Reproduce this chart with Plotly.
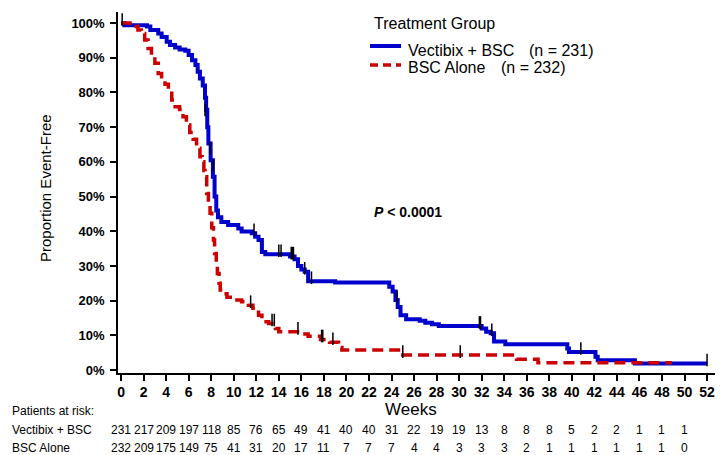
import plotly.graph_objects as go

# ---------------- data ----------------
weeks_ticks = list(range(0, 53, 2))

vect_t = [0, 0.3, 2.3, 2.6, 3.3, 3.6, 4.05, 4.35, 4.8, 5.2, 5.7, 6.0, 6.3, 6.6, 6.8, 7.0, 7.25,
          7.45, 7.55, 7.65, 7.75, 7.95, 8.15, 8.3, 8.45, 8.6, 8.9, 9.5, 10.4, 10.7, 11.6, 11.9,
          12.2, 12.5, 12.8, 15.0, 15.4, 15.7, 16.0, 16.3, 16.6, 19.0, 23.8, 24.1, 24.35, 24.55,
          24.8, 25.3, 26.5, 27.0, 27.6, 28.2, 32.0, 32.4, 32.8, 33.1, 34.1, 39.6, 39.75, 42.1,
          42.3, 45.6, 52.0]
vect_s = [100, 99.4, 99.0, 98.0, 97.0, 96.0, 94.6, 93.7, 93.0, 92.4, 92.0, 90.8, 89.3, 87.9, 86.0,
          84.0, 82.0, 78.5, 75.0, 70.0, 65.3, 60.5, 55.7, 50.0, 46.0, 44.0, 42.7, 41.8, 40.8,
          39.9, 39.4, 38.4, 37.5, 34.0, 33.4, 32.7, 31.9, 30.0, 29.0, 28.3, 25.6, 25.2, 24.0,
          22.6, 20.2, 18.2, 15.8, 14.6, 14.2, 13.6, 13.2, 12.7, 12.0, 11.0, 10.6, 8.2, 7.4, 6.2,
          5.2, 3.8, 2.8, 1.9, 1.9]

bsc_t = [0, 0.8, 1.1, 1.5, 1.8, 2.1, 2.4, 2.7, 3.0, 3.3, 3.6, 3.9, 4.2, 4.5, 4.8, 5.2, 5.5, 5.8,
         6.1, 6.4, 6.7, 7.0, 7.2, 7.35, 7.45, 7.6, 7.75, 7.9, 8.05, 8.2, 8.3, 8.45, 8.55, 8.7,
         8.8, 9.1, 9.4, 10.1, 10.7, 11.3, 11.7, 12.2, 12.5, 13.1, 13.7, 14.0, 15.9, 16.6, 17.7,
         18.5, 19.3, 19.6, 24.8, 35.1, 37.0, 48.9]
bsc_s = [100, 99.4, 99.0, 98.0, 97.0, 95.1, 92.7, 90.8, 88.4, 85.5, 83.6, 82.4, 80.7, 77.8, 75.9,
         75.1, 73.0, 70.6, 68.5, 66.5, 63.9, 61.5, 60.0, 57.5, 55.7, 50.9, 48.0, 45.2, 41.0, 37.5,
         33.6, 30.0, 27.8, 25.0, 23.1, 22.0, 21.0, 20.2, 19.7, 18.7, 17.8, 15.8, 13.9, 13.4, 12.0,
         11.0, 10.4, 9.7, 8.8, 8.0, 6.5, 5.8, 4.3, 3.1, 2.1, 2.1]

vect_cens_t = [0.1, 7.45, 7.9, 8.2, 11.8, 14.0, 14.2, 15.1, 15.2, 15.3, 16.3, 16.9, 24.5, 31.8, 31.9, 32.9, 40.8, 52.0]
vect_cens_s = [101, 75, 64, 59, 40.4, 34.4, 34.4, 33.7, 33.7, 33.7, 29.3, 26.6, 21.2, 13.7, 13.7, 11.6, 6.2, 2.9]

bsc_cens_t = [11.5, 13.4, 13.6, 15.7, 17.8, 17.9, 18.8, 25.0, 30.1]
bsc_cens_s = [19.7, 14.4, 14.4, 12.0, 9.8, 9.8, 9.0, 5.3, 5.3]

vect_risk = [231, 217, 209, 197, 118, 85, 76, 65, 49, 41, 40, 40, 31, 22, 19, 19, 13, 8, 8, 8, 5, 2, 2, 1, 1, 1]
bsc_risk = [232, 209, 175, 149, 75, 41, 31, 20, 17, 11, 7, 7, 7, 4, 4, 3, 3, 3, 2, 1, 1, 1, 1, 1, 1, 0]

y_ticks = list(range(0, 101, 10))
y_tick_labels = [f"{v}%" for v in y_ticks]

legend_title = "Treatment Group"
legend_names = ["Vectibix + BSC", "BSC Alone"]
legend_n = ["(n = 231)", "(n = 232)"]

BLUE = "#0000CC"
RED = "#CC0000"
FONT = "Liberation Sans, Arial, sans-serif"

# The page body has an 8px margin; lay out in screenshot pixels and convert.
OFF = 8
W, H = 723 - OFF, 455 - OFF
PL, PR, PT, PB = 118, 720, 12, 373   # plot area in screenshot pixels
L, R, T, B = PL - OFF, W - (PR - OFF), PT - OFF, H - (PB - OFF)
pw = PR - PL
ph = PB - PT

def px(xp):
    return (xp - PL) / pw

def py(yp):
    return (PB - yp) / ph

fig = go.Figure()
fig.add_trace(go.Scatter(x=vect_t, y=vect_s, mode="lines", line_shape="hv",
                         line=dict(color=BLUE, width=4), name=legend_names[0], showlegend=False))
fig.add_trace(go.Scatter(x=bsc_t, y=bsc_s, mode="lines", line_shape="hv",
                         line=dict(color=RED, width=3.5, dash="11px,6px"), name=legend_names[1],
                         showlegend=False))
fig.add_trace(go.Scatter(x=vect_cens_t + bsc_cens_t, y=vect_cens_s + bsc_cens_s, mode="markers",
                         marker=dict(symbol="line-ns", size=9, line=dict(width=1.5, color="black")),
                         showlegend=False, hoverinfo="skip"))

ann = []
def add_text(text, x, y, size, xanchor="center", xref="paper", angle=0, bold=False):
    ann.append(dict(text=f"<b>{text}</b>" if bold else text, x=x, y=y, xref=xref, yref="paper",
                    xanchor=xanchor, yanchor="middle", textangle=angle, showarrow=False,
                    font=dict(size=size, color="black", family=FONT)))

add_text("Proportion Event-Free", px(45), py(188), 15, angle=-90)
add_text("Weeks", px(411), py(410), 17)
add_text("<i>P</i> < 0.0001", px(408), py(212), 14, bold=True)
add_text(legend_title, px(372), py(23), 16, xanchor="left")
add_text(legend_names[0], px(406), py(50), 16, xanchor="left")
add_text(legend_n[0], px(527), py(50), 16, xanchor="left")
add_text(legend_names[1], px(406), py(68), 16, xanchor="left")
add_text(legend_n[1], px(499), py(68), 16, xanchor="left")
add_text("Patients at risk:", px(10), py(411), 12, xanchor="left")
add_text("Vectibix + BSC", px(10), py(430), 12, xanchor="left")
add_text("BSC Alone", px(10), py(448.5), 12, xanchor="left")
for wk, a, b in zip(weeks_ticks, vect_risk, bsc_risk):
    add_text(str(a), wk, py(430), 12, xref="x")
    add_text(str(b), wk, py(448.5), 12, xref="x")

shapes = [
    dict(type="line", xref="paper", yref="paper", x0=px(370), x1=px(401), y0=py(46), y1=py(46),
         line=dict(color=BLUE, width=4)),
    dict(type="line", xref="paper", yref="paper", x0=px(370), x1=px(401), y0=py(65), y1=py(65),
         line=dict(color=RED, width=3.5, dash="8px,5px")),
]

fig.update_layout(
    width=W, height=H,
    margin=dict(l=L, r=R, t=T, b=B, pad=0, autoexpand=False),
    paper_bgcolor="white", plot_bgcolor="white",
    font=dict(family=FONT, color="black"),
    annotations=ann, shapes=shapes,
    showlegend=False,
)
fig.update_xaxes(range=[-0.27, 53.15], tickvals=weeks_ticks, ticktext=[f"<b>{v}</b>" for v in weeks_ticks],
                 showline=True, linecolor="black", linewidth=1.5, ticks="outside", ticklen=6,
                 tickwidth=1.5, tickcolor="black", showgrid=False, zeroline=False,
                 tickfont=dict(size=14, family=FONT, color="black"), ticklabelstandoff=-1)
fig.update_yaxes(range=[-0.86, 103.2], tickvals=y_ticks, ticktext=[f"<b>{t}</b>" for t in y_tick_labels],
                 showline=True, linecolor="black", linewidth=1.5, ticks="outside", ticklen=6,
                 tickwidth=1.5, tickcolor="black", showgrid=False, zeroline=False,
                 tickfont=dict(size=13, family=FONT, color="black"), ticklabelstandoff=3)

fig.write_html("out.html")
